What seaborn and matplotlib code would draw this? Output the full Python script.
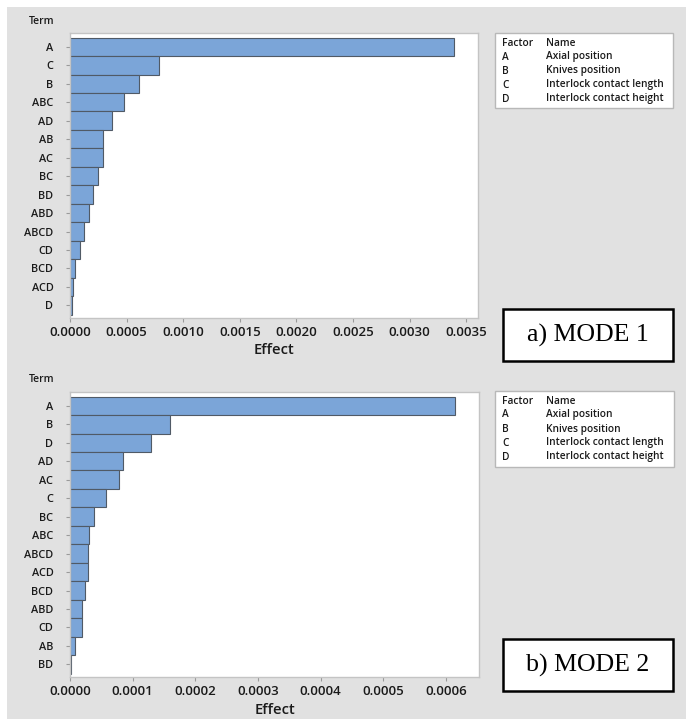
import matplotlib
matplotlib.use("Agg")
import matplotlib.pyplot as plt
from matplotlib.patches import Rectangle
from matplotlib.ticker import FormatStrFormatter
import pandas as pd
import seaborn as sns

# Mode 1 effects, sorted by magnitude
terms_mode1 = ["A", "C", "B", "ABC", "AD", "AB", "AC", "BC", "BD", "ABD",
               "ABCD", "CD", "BCD", "ACD", "D"]
effects_mode1 = [0.00339, 0.000788, 0.000606, 0.000474, 0.000371, 0.000291,
                 0.000294, 0.000244, 0.000200, 0.000165, 0.000124, 0.000085,
                 0.000041, 0.000026, 0.000020]

# Mode 2 effects, sorted by magnitude
terms_mode2 = ["A", "B", "D", "AD", "AC", "C", "BC", "ABC", "ABCD", "ACD",
               "BCD", "ABD", "CD", "AB", "BD"]
effects_mode2 = [0.000615, 0.000160, 0.000129, 0.0000846, 0.0000790,
                 0.0000569, 0.0000378, 0.0000303, 0.0000287, 0.0000290,
                 0.0000239, 0.0000186, 0.0000188, 0.0000085, 0.0000020]

factor_codes = ["A", "B", "C", "D"]
factor_names = ["Axial position", "Knives position",
                "Interlock contact length", "Interlock contact height"]

W, H = 686, 719
sns.set_theme(style="white")
plt.rcParams["font.family"] = ["Open Sans", "DejaVu Sans"]

fig = plt.figure(figsize=(W / 100, H / 100), dpi=100, facecolor="white")

# light grey backdrop
fig.patches.append(Rectangle((7 / W, 0), 1 - 7 / W, 1 - 7 / H,
                             transform=fig.transFigure, facecolor="#e1e1e1",
                             edgecolor="none", zorder=-5))

BAR = "#7ba5d8"
EDGE = "#505a66"
FRAME = "#c4c4c4"
TICK = "#9a9a9a"
TXT = "#1a1a1a"
WEIGHT = "semibold"


def px_axes(left, top, right, bottom):
    return fig.add_axes([left / W, 1 - bottom / H, (right - left) / W,
                         (bottom - top) / H])


def effect_panel(ax, terms, effects, xmax, step, nticks):
    df = pd.DataFrame({"Term": terms, "Effect": effects})
    sns.barplot(data=df, x="Effect", y="Term", orient="h", color=BAR,
                saturation=1, width=1.0, edgecolor=EDGE, linewidth=0.8,
                ax=ax)
    ax.set_facecolor("white")
    ax.set_xlim(0, xmax)
    ax.set_ylim(len(terms) - 0.5 + 0.18, -0.5 - 0.25)
    ax.set_xticks([i * step for i in range(nticks)])
    ax.xaxis.set_major_formatter(FormatStrFormatter("%.4f"))
    ax.tick_params(axis="x", which="major", bottom=True, length=3,
                   width=0.8, color=TICK, pad=3, labelsize=9.5,
                   labelcolor=TXT)
    ax.tick_params(axis="y", which="major", left=True, length=3,
                   width=0.8, color=TICK, pad=9, labelsize=7.8,
                   labelcolor=TXT)
    for lab in ax.get_yticklabels() + ax.get_xticklabels():
        lab.set_fontweight(WEIGHT)
    ax.set_ylabel("")
    ax.set_xlabel("Effect", fontsize=10.6, fontweight=WEIGHT,
                  color=TXT, labelpad=3)
    for sp in ax.spines.values():
        sp.set_color(FRAME)
        sp.set_linewidth(1.0)


def factor_table(left, top, right, bottom):
    fig.patches.append(Rectangle((left / W, 1 - bottom / H),
                                 (right - left) / W, (bottom - top) / H,
                                 transform=fig.transFigure, facecolor="white",
                                 edgecolor="#b8b8b8", linewidth=1.0,
                                 zorder=1))
    rows = [("Factor", "Name")] + list(zip(factor_codes, factor_names))
    for i, (code, name) in enumerate(rows):
        y = top + 10 + i * 14
        fig.text(502 / W, 1 - y / H, code, fontsize=7.3, va="center",
                 ha="left", color=TXT, fontweight=WEIGHT, zorder=2)
        fig.text(546 / W, 1 - y / H, name, fontsize=7.3, va="center",
                 ha="left", color=TXT, fontweight=WEIGHT, zorder=2)


def mode_box(left, top, right, bottom, label):
    fig.patches.append(Rectangle((left / W, 1 - bottom / H),
                                 (right - left) / W, (bottom - top) / H,
                                 transform=fig.transFigure, facecolor="white",
                                 edgecolor="black", linewidth=1.8, zorder=1))
    fig.text((left + right) / 2 / W, 1 - (top + bottom) / 2 / H, label,
             fontsize=18.6, family="Liberation Serif", ha="center",
             va="center", color="black", zorder=2)


# top panel: Mode 1
ax1 = px_axes(70, 33, 478, 318)
effect_panel(ax1, terms_mode1, effects_mode1, 0.003603, 0.0005, 8)
fig.text(42 / W, 1 - 21 / H, "Term", fontsize=7.5, ha="center",
         va="center", color=TXT, fontweight=WEIGHT)
factor_table(495, 33, 673, 108)
mode_box(503, 309, 673, 361, "a) MODE 1")

# bottom panel: Mode 2
ax2 = px_axes(70, 392, 479, 677)
effect_panel(ax2, terms_mode2, effects_mode2, 0.000653, 0.0001, 7)
fig.text(42 / W, 1 - 379 / H, "Term", fontsize=7.5, ha="center",
         va="center", color=TXT, fontweight=WEIGHT)
factor_table(495, 391, 674, 467)
mode_box(503, 639, 673, 691, "b) MODE 2")

fig.savefig("out.png", dpi=100, facecolor="white")
